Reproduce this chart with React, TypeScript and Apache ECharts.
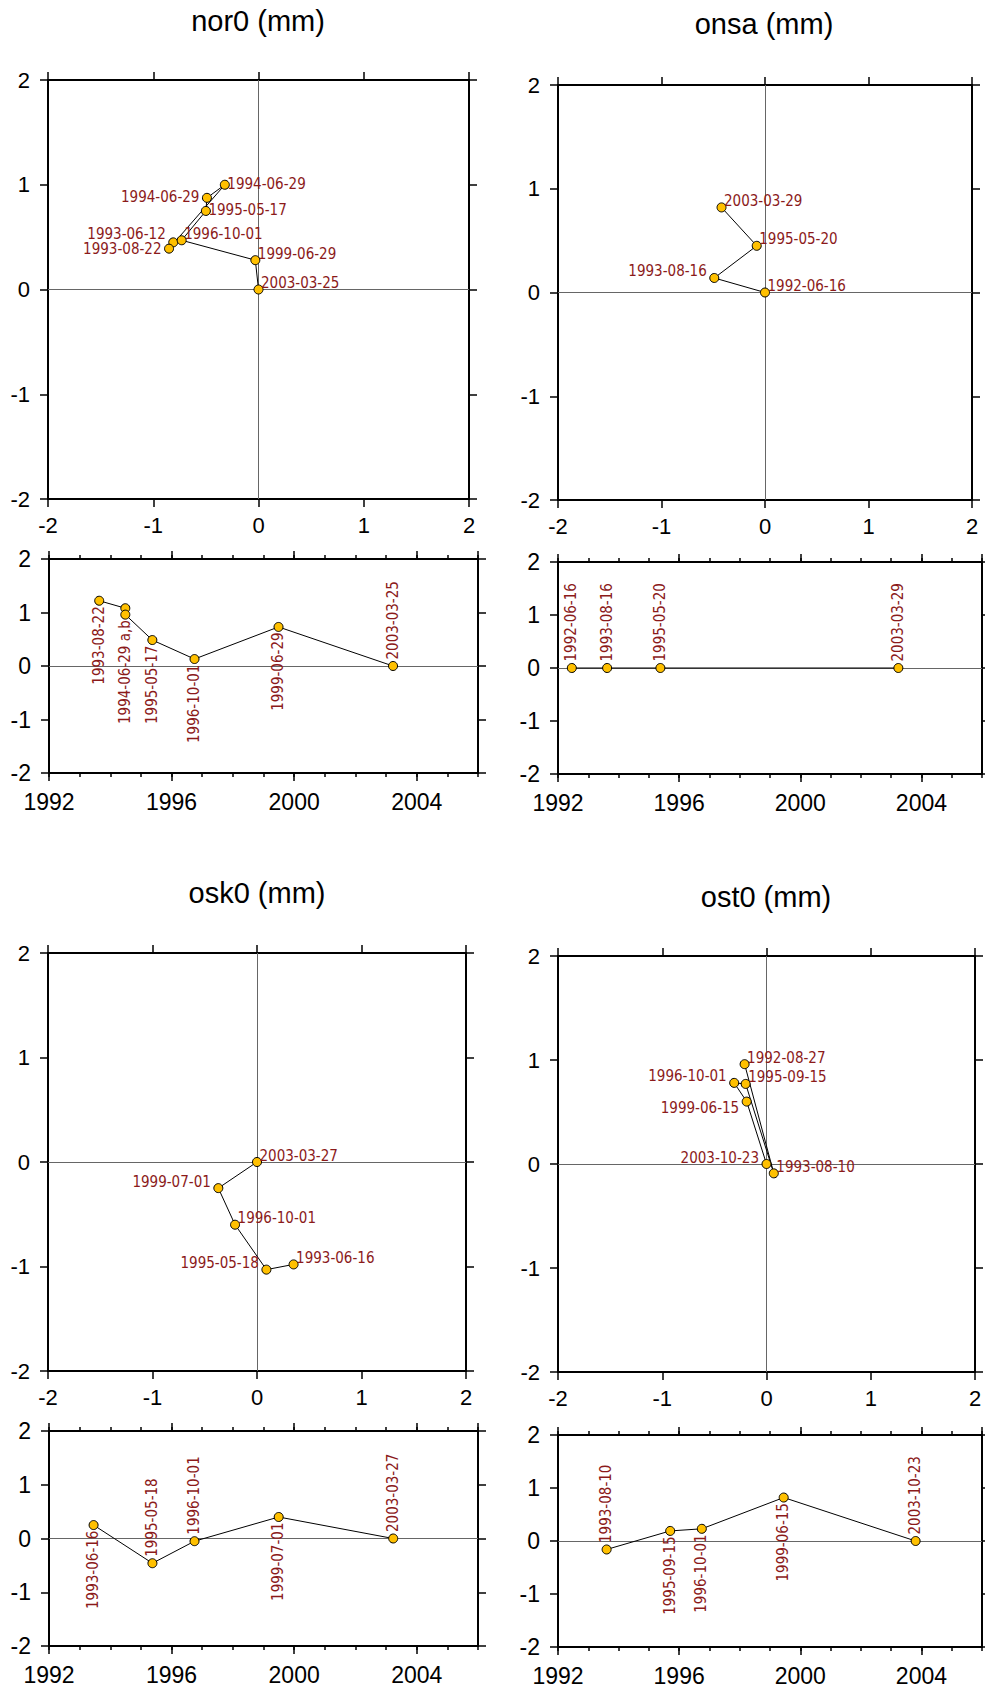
import React, { useEffect, useRef } from 'react';
import * as echarts from 'echarts';

// ---------------- data ----------------
// horizontal displacement (east, north), mm, in time order
const nor0Dates = ['1993-06-12', '1993-08-22', '1994-06-29', '1994-06-29', '1995-05-17', '1996-10-01', '1999-06-29', '2003-03-25'];
const nor0East = [-0.81, -0.85, -0.32, -0.49, -0.5, -0.73, -0.03, 0];
const nor0North = [0.45, 0.39, 1.0, 0.875, 0.75, 0.47, 0.28, 0];

const onsaDates = ['1992-06-16', '1993-08-16', '1995-05-20', '2003-03-29'];
const onsaEast = [0, -0.49, -0.08, -0.42];
const onsaNorth = [0, 0.14, 0.45, 0.82];

const osk0Dates = ['1993-06-16', '1995-05-18', '1996-10-01', '1999-07-01', '2003-03-27'];
const osk0East = [0.35, 0.09, -0.21, -0.37, 0];
const osk0North = [-0.98, -1.03, -0.6, -0.25, 0];

const ost0Dates = ['1992-08-27', '1993-08-10', '1995-09-15', '1996-10-01', '1999-06-15', '2003-10-23'];
const ost0East = [-0.21, 0.07, -0.2, -0.31, -0.19, 0];
const ost0North = [0.96, -0.09, 0.77, 0.78, 0.6, 0];

// vertical time series, mm
const nor0TsDates = ['1993-08-22', '1994-06-29', '1994-06-29', '1995-05-17', '1996-10-01', '1999-06-29', '2003-03-25'];
const nor0TsLabels = ['1993-08-22', '', '1994-06-29 a,b', '1995-05-17', '1996-10-01', '1999-06-29', '2003-03-25'];
const nor0Up = [1.22, 1.08, 0.96, 0.485, 0.13, 0.73, 0];

const onsaTsDates = ['1992-06-16', '1993-08-16', '1995-05-20', '2003-03-29'];
const onsaTsLabels = ['1992-06-16', '1993-08-16', '1995-05-20', '2003-03-29'];
const onsaUp = [0, 0, 0, 0];

const osk0TsDates = ['1993-06-16', '1995-05-18', '1996-10-01', '1999-07-01', '2003-03-27'];
const osk0TsLabels = ['1993-06-16', '1995-05-18', '1996-10-01', '1999-07-01', '2003-03-27'];
const osk0Up = [0.25, -0.46, -0.05, 0.4, 0];

const ost0TsDates = ['1993-08-10', '1995-09-15', '1996-10-01', '1999-06-15', '2003-10-23'];
const ost0TsLabels = ['1993-08-10', '1995-09-15', '1996-10-01', '1999-06-15', '2003-10-23'];
const ost0Up = [-0.16, 0.19, 0.23, 0.82, 0];

const stationTitles = ['nor0 (mm)', 'onsa (mm)', 'osk0 (mm)', 'ost0 (mm)'];

// axis ranges / tick steps
const H_MIN = -2, H_MAX = 2, H_STEP = 1;
const T_MIN = 1992, T_MAX = 2006, T_MAJOR = 4, T_MINOR = 1;

// ---------------- styling / layout ----------------
const W = 985, H = 1687;
const AXIS_FONT = '"Liberation Sans", Arial, Helvetica, sans-serif';
const LABEL_FONT = '"Liberation Sans Narrow", "Arial Narrow", "DejaVu Sans Condensed", sans-serif';
const LABEL_COLOR = '#8B1A1A';
const DOT_COLOR = '#FFC000';

// label side for the map panels: r/l = right/left, u/c/d/h = up/centre/down/higher
const nor0Place = ['lh', 'ls', 'rc', 'lc', 'rc', 'ru', 'ru', 'ru'];
const onsaPlace = ['ru', 'lu', 'ru', 'ru'];
const osk0Place = ['ru', 'lu', 'ru', 'lu', 'ru'];
const ost0Place = ['ru', 'ru', 'ru', 'lu', 'ld', 'lu'];
// label side for time series: t = above, b = below
const nor0Side = ['b', 'b', 'b', 'b', 'b', 'b', 't'];
const onsaSide = ['t', 't', 't', 't'];
const osk0Side = ['b', 't', 't', 'b', 't'];
const ost0Side = ['t', 'b', 'b', 'b', 't'];

const mapGrids = [
  { left: 48, top: 80, width: 421, height: 419 },
  { left: 558, top: 85, width: 414, height: 415 },
  { left: 48, top: 953, width: 418, height: 418 },
  { left: 558, top: 956, width: 417, height: 416 },
];
const tsGrids = [
  { left: 49, top: 559, width: 429, height: 214 },
  { left: 558, top: 562, width: 424, height: 212 },
  { left: 49, top: 1431, width: 429, height: 215 },
  { left: 558, top: 1435, width: 424, height: 212 },
];
const titlePos = [[258, 21], [764, 23.5], [257, 893], [766, 896.5]];

function decYear(d: string): number {
  const [y, m, dd] = d.split('-').map(Number);
  const start = Date.UTC(y, 0, 1);
  const end = Date.UTC(y + 1, 0, 1);
  return y + (Date.UTC(y, m - 1, dd) - start) / (end - start);
}

const DY: Record<string, number> = { u: -6, c: 0, d: 7, h: -8, s: 1 };

function mapLabel(p: string) {
  const dy = DY[p[1]] ?? 0;
  if (p[0] === 'r') return { position: [7.5, 4.5 + dy], align: 'left', verticalAlign: 'middle' };
  return { position: [-2.5, 4.5 + dy], align: 'right', verticalAlign: 'middle' };
}

function tsLabel(s: string) {
  if (s === 't') return { position: [4.5, -1.5], align: 'left', verticalAlign: 'middle', rotate: 90 };
  return { position: [4.5, 10.5], align: 'right', verticalAlign: 'middle', rotate: 90 };
}

function axis(gridIndex: number, position: string, min: number, max: number, interval: number, tickLen: number, label: any, line = true) {
  return {
    type: 'value',
    gridIndex,
    position,
    min,
    max,
    interval,
    axisLine: { show: line, onZero: false, lineStyle: { color: '#000', width: 2 } },
    axisTick: { show: true, inside: false, length: tickLen, lineStyle: { color: '#000', width: 1.5 } },
    axisLabel: label ? { show: true, color: '#000', fontFamily: AXIS_FONT, ...label } : { show: false },
    splitLine: { show: false },
    minorTick: { show: false },
  };
}

const zeroLine = (withX: boolean) => ({
  silent: true,
  symbol: 'none',
  z: 1,
  label: { show: false },
  lineStyle: { color: '#666', width: 1, type: 'solid' },
  emphasis: { disabled: true },
  data: withX ? [{ yAxis: 0 }, { xAxis: 0 }] : [{ yAxis: 0 }],
});

const baseSeries = {
  type: 'line',
  z: 3,
  symbol: 'circle',
  symbolSize: 9,
  showAllSymbol: true,
  lineStyle: { color: '#000', width: 1 },
  itemStyle: { color: DOT_COLOR, borderColor: '#000', borderWidth: 1 },
  label: { show: true, formatter: '{b}', color: LABEL_COLOR, fontSize: 15, fontFamily: LABEL_FONT },
  emphasis: { disabled: true },
};

function buildOption() {
  const grids: any[] = [];
  const xAxis: any[] = [];
  const yAxis: any[] = [];
  const series: any[] = [];

  const maps = [
    { dates: nor0Dates, e: nor0East, n: nor0North, place: nor0Place },
    { dates: onsaDates, e: onsaEast, n: onsaNorth, place: onsaPlace },
    { dates: osk0Dates, e: osk0East, n: osk0North, place: osk0Place },
    { dates: ost0Dates, e: ost0East, n: ost0North, place: ost0Place },
  ];
  const tss = [
    { dates: nor0TsDates, labels: nor0TsLabels, u: nor0Up, side: nor0Side },
    { dates: onsaTsDates, labels: onsaTsLabels, u: onsaUp, side: onsaSide },
    { dates: osk0TsDates, labels: osk0TsLabels, u: osk0Up, side: osk0Side },
    { dates: ost0TsDates, labels: ost0TsLabels, u: ost0Up, side: ost0Side },
  ];

  for (let k = 0; k < 4; k++) {
    // map panel
    const m = maps[k];
    let gi = grids.length;
    grids.push({ ...mapGrids[k], containLabel: false });
    const xi = xAxis.length;
    xAxis.push(axis(gi, 'bottom', H_MIN, H_MAX, H_STEP, 8, { fontSize: 22, margin: 15 }));
    xAxis.push(axis(gi, 'top', H_MIN, H_MAX, H_STEP, 8, null));
    const yi = yAxis.length;
    yAxis.push(axis(gi, 'left', H_MIN, H_MAX, H_STEP, 8, { fontSize: 22, margin: 18 }));
    yAxis.push(axis(gi, 'right', H_MIN, H_MAX, H_STEP, 8, null));
    series.push({
      ...baseSeries,
      xAxisIndex: xi,
      yAxisIndex: yi,
      data: m.dates.map((d, i) => ({ name: d, value: [m.e[i], m.n[i]], label: mapLabel(m.place[i]) })),
      markLine: zeroLine(true),
    });

    // time-series panel
    const t = tss[k];
    gi = grids.length;
    grids.push({ ...tsGrids[k], containLabel: false });
    const txi = xAxis.length;
    xAxis.push(axis(gi, 'bottom', T_MIN, T_MAX, T_MAJOR, 8, { fontSize: 23, margin: 17, showMaxLabel: false, formatter: (v: number) => String(v) }));
    xAxis.push(axis(gi, 'bottom', T_MIN, T_MAX, T_MINOR, 4, null, false));
    xAxis.push(axis(gi, 'top', T_MIN, T_MAX, T_MAJOR, 8, null));
    xAxis.push(axis(gi, 'top', T_MIN, T_MAX, T_MINOR, 4, null, false));
    const tyi = yAxis.length;
    yAxis.push(axis(gi, 'left', H_MIN, H_MAX, H_STEP, 8, { fontSize: 23, margin: 18 }));
    yAxis.push(axis(gi, 'right', H_MIN, H_MAX, H_STEP, 8, null));
    series.push({
      ...baseSeries,
      xAxisIndex: txi,
      yAxisIndex: tyi,
      data: t.dates.map((d, i) => ({ name: t.labels[i], value: [decYear(d), t.u[i]], label: tsLabel(t.side[i]) })),
      markLine: zeroLine(false),
    });
  }

  const graphic = stationTitles.map((txt, i) => ({
    type: 'text',
    x: titlePos[i][0],
    y: titlePos[i][1],
    style: { text: txt, fill: '#000', font: `29px ${AXIS_FONT}`, align: 'center', verticalAlign: 'middle' },
  }));

  return {
    animation: false,
    backgroundColor: '#fff',
    grid: grids,
    xAxis,
    yAxis,
    series,
    graphic,
  };
}

export default function App() {
  const ref = useRef<HTMLDivElement>(null);
  useEffect(() => {
    document.body.style.margin = '0';
    const chart = echarts.init(ref.current as HTMLDivElement, null, { renderer: 'svg', width: W, height: H });
    chart.setOption(buildOption() as any);
    return () => chart.dispose();
  }, []);
  return <div ref={ref} style={{ width: W, height: H, background: '#fff' }} />;
}
